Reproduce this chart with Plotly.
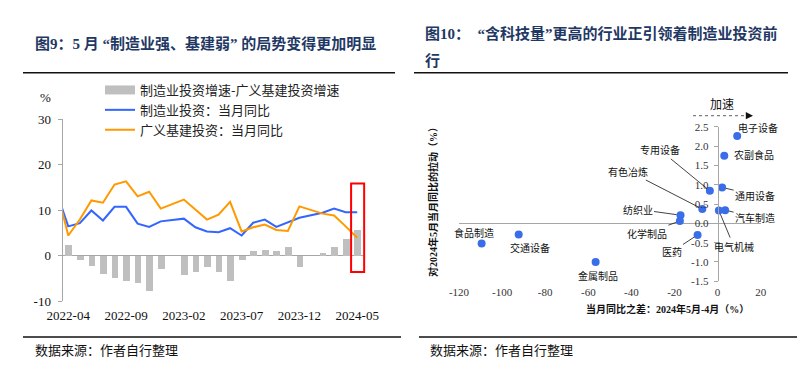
import plotly.graph_objects as go

W, H = 804, 372

# ---------------- Left chart data ----------------
MONTHS = ["2022-03", "2022-04", "2022-05", "2022-06", "2022-07", "2022-08", "2022-09",
          "2022-10", "2022-11", "2022-12", "2023-01", "2023-02", "2023-03", "2023-04",
          "2023-05", "2023-06", "2023-07", "2023-08", "2023-09", "2023-10", "2023-11",
          "2023-12", "2024-01", "2024-02", "2024-03", "2024-04", "2024-05"]
BAR_MONTHS = MONTHS[1:]
MFG_YOY = [13.8, 6.4, 7.1, 9.9, 7.7, 10.7, 10.7, 7.0, 6.3, 7.5, None, 8.1, 6.2, 5.3,
           5.1, 6.0, 4.4, 7.2, 7.9, 6.3, 7.3, 8.3, None, 9.4, 10.3, 9.5, 9.5]
INFRA_YOY = [14.4, 4.4, 7.9, 12.1, 11.6, 15.6, 16.3, 13.0, 14.0, 10.3, None, 12.3, 10.1, 7.9,
             9.0, 11.8, 5.3, 6.2, 6.8, 5.6, 5.4, 10.8, None, 9.2, 8.8, 6.4, 3.9]
GAP = [2.2, -0.9, -2.2, -4.0, -4.9, -5.6, -6.0, -7.7, -2.9, None, -4.2, -3.7, -2.6,
       -3.7, -5.6, -1.0, 1.1, 1.3, 0.9, 1.9, -2.6, None, 0.6, 1.8, 3.6, 5.7]
X_TICKS_L = ["2022-04", "2022-09", "2023-02", "2023-07", "2023-12", "2024-05"]
Y_TICKS_L = [-10, 0, 10, 20, 30]
HIGHLIGHT_Y = (-3.6, 15.8)
SERIES_NAMES = ["制造业投资增速-广义基建投资增速", "制造业投资：当月同比", "广义基建投资：当月同比"]

# ---------------- Right chart data ----------------
INDUSTRIES = ["电子设备", "农副食品", "专用设备", "通用设备", "有色冶炼", "电气机械", "汽车制造",
              "纺织业", "化学制品", "医药", "食品制造", "交通设备", "金属制品"]
YOY_DIFF = [9.1, 3.1, -3.6, 2.1, -7.1, 0.6, 3.5, -17.2, -17.5, -9.3, -109.5, -92.3, -56.6]
CONTRIB = [2.26, 1.75, 0.84, 0.93, 0.37, 0.33, 0.34, 0.21, 0.06, -0.30, -0.52, -0.29, -1.00]
X_TICKS_R = [-120, -100, -80, -60, -40, -20, 0, 20]
Y_TICKS_R = [-1.5, -1.0, -0.5, 0.0, 0.5, 1.0, 1.5, 2.0, 2.5]

# label placement (style): (mode, xanchor, dx, dy)
LABEL_STYLE = {
    "电子设备": ("shift", "left", -1, 8),
    "农副食品": ("shift", "left", 8, 1),
    "专用设备": ("lead", None, -50, -41),
    "通用设备": ("lead", None, 33, 8),
    "有色冶炼": ("lead", None, -74, -38),
    "电气机械": ("lead", None, 15, 36),
    "汽车制造": ("lead", None, 30, 7),
    "纺织业": ("lead", None, -43, -6),
    "化学制品": ("lead", None, -33, 12),
    "医药": ("lead", None, -26, 17),
    "食品制造": ("shift", "center", -8, 11),
    "交通设备": ("shift", "center", 11, -13),
    "金属制品": ("shift", "center", 2, -14),
}

SERIF = "Liberation Serif, Noto Sans CJK SC, serif"
CJK = "Noto Sans CJK SC, sans-serif"
GRAY = "#A6A6A6"


def PX(x):
    return x / W


def PY(y):
    return 1 - y / H


L_DOM_X = [PX(62.5), PX(363)]
L_DOM_Y = [PY(301), PY(119)]
R_DOM_X = [PX(459), PX(760.7)]
R_DOM_Y = [PY(281.3), PY(126.7)]
L_XRANGE = [0.5, len(MONTHS) - 0.5]
R_XRANGE = [-120, 20]

fig = go.Figure()

fig.add_trace(go.Bar(x=BAR_MONTHS, y=GAP, marker=dict(color="#BFBFBF", line=dict(width=0)),
                     width=0.58, showlegend=False, xaxis="x", yaxis="y"))
# legend proxy for the bar series (wide swatch as in the reference)
fig.add_trace(go.Scatter(x=[None], y=[None], mode="lines", name=SERIES_NAMES[0],
                         line=dict(color="#BFBFBF", width=9), xaxis="x", yaxis="y"))
fig.add_trace(go.Scatter(x=MONTHS, y=MFG_YOY, mode="lines", name=SERIES_NAMES[1], connectgaps=True,
                         line=dict(color="#3366FF", width=2), xaxis="x", yaxis="y"))
fig.add_trace(go.Scatter(x=MONTHS, y=INFRA_YOY, mode="lines", name=SERIES_NAMES[2], connectgaps=True,
                         line=dict(color="#FF9900", width=2), xaxis="x", yaxis="y"))

fig.add_trace(go.Scatter(x=YOY_DIFF, y=CONTRIB, mode="markers", showlegend=False,
                         marker=dict(color="#3A6EE8", size=8), xaxis="x2", yaxis="y2"))

yaxis2_pos = R_DOM_X[0] + (0 - R_XRANGE[0]) / (R_XRANGE[1] - R_XRANGE[0]) * (R_DOM_X[1] - R_DOM_X[0])

fig.update_layout(
    template="none",
    width=W, height=H, margin=dict(l=0, r=0, t=0, b=0, pad=0, autoexpand=False),
    paper_bgcolor="white", plot_bgcolor="white",
    bargap=0,
    legend=dict(x=PX(100), y=PY(75), xanchor="left", yanchor="top",
                font=dict(family=CJK, size=13, color="#222"),
                bgcolor="rgba(0,0,0,0)", itemwidth=30, tracegroupgap=0),
    xaxis=dict(domain=L_DOM_X, anchor="y", type="category", categoryorder="array",
               categoryarray=MONTHS, range=L_XRANGE, tickmode="array", tickvals=X_TICKS_L,
               ticktext=X_TICKS_L, ticks="", showline=False, showgrid=False, zeroline=False,
               automargin=False,
               tickfont=dict(family=SERIF, size=13, color="#111"), ticklabelstandoff=5),
    yaxis=dict(domain=L_DOM_Y, anchor="x", range=[Y_TICKS_L[0], Y_TICKS_L[-1]],
               tickmode="array", tickvals=Y_TICKS_L, ticktext=[str(v) for v in Y_TICKS_L],
               showline=True, linecolor=GRAY, linewidth=1, ticks="outside", ticklen=4,
               tickcolor=GRAY, showgrid=False, zeroline=True, zerolinecolor=GRAY, zerolinewidth=1,
               automargin=False,
               tickfont=dict(family=SERIF, size=13, color="#111"), ticklabelstandoff=4),
    xaxis2=dict(domain=R_DOM_X, anchor="y2", range=R_XRANGE, tickmode="array",
                tickvals=X_TICKS_R, ticktext=[str(v) for v in X_TICKS_R], ticks="",
                showline=False, showgrid=False, zeroline=False, automargin=False,
                tickfont=dict(family=SERIF, size=11, color="#333"), ticklabelstandoff=3),
    yaxis2=dict(domain=R_DOM_Y, anchor="free", position=yaxis2_pos,
                range=[Y_TICKS_R[0], Y_TICKS_R[-1]], tickmode="array", tickvals=Y_TICKS_R,
                ticktext=["%.1f" % v for v in Y_TICKS_R], showline=True, linecolor=GRAY,
                linewidth=1, ticks="outside", ticklen=4, tickcolor=GRAY, showgrid=False,
                zeroline=True, zerolinecolor=GRAY, zerolinewidth=1, automargin=False,
                tickfont=dict(family=SERIF, size=11, color="#333"), ticklabelstandoff=3),
)

ann = []
TITLE_COLOR = "#1F3864"
TITLE_FONT = dict(family=SERIF, size=15, color=TITLE_COLOR, weight="bold")


def paper_text(text, x, y, font, xanchor="center", **kw):
    d = dict(text=text, x=PX(x), y=PY(y), xref="paper", yref="paper", xanchor=xanchor,
             yanchor="middle", showarrow=False, font=font)
    d.update(kw)
    return d


ann.append(paper_text("图9：5 月 “制造业强、基建弱” 的局势变得更加明显", 33, 43, TITLE_FONT, "left"))
ann.append(paper_text("图10：  “含科技量”更高的行业正引领着制造业投资前", 423, 33, TITLE_FONT, "left"))
ann.append(paper_text("行", 423, 61, TITLE_FONT, "left"))
for xs in (33, 428):
    ann.append(paper_text("数据来源：作者自行整理", xs, 349, dict(family=CJK, size=13, color="#111"), "left"))
ann.append(paper_text("%", 45, 97, dict(family=SERIF, size=13, color="#111")))
# right axis titles
ann.append(paper_text("当月同比之差：2024年5月-4月（%）", 667, 309,
                      dict(family=SERIF, size=10, color="#111", weight="bold")))
ann.append(paper_text("对2024年5月当月同比的拉动（%）", 433, 200,
                      dict(family=SERIF, size=10, color="#111", weight="bold"), textangle=-90))
ann.append(paper_text("加速", 722, 104, dict(family=CJK, size=12, color="#111")))
ann.append(dict(text="", x=PX(753), y=PY(115.7), xref="paper", yref="paper", showarrow=True,
                ax=-8, ay=0, arrowhead=2, arrowsize=1.2, arrowwidth=1.2, arrowcolor="#111"))

# industry labels
for name, xv, yv in zip(INDUSTRIES, YOY_DIFF, CONTRIB):
    mode, anchor, dx, dy = LABEL_STYLE[name]
    base = dict(text=name, x=xv, y=yv, xref="x2", yref="y2",
                font=dict(family=CJK, size=10, color="#111"))
    if mode == "lead":
        base.update(showarrow=True, arrowhead=0, arrowwidth=0.8, arrowcolor="#111",
                    ax=dx, ay=dy, standoff=4)
    else:
        base.update(showarrow=False, xanchor=anchor, yanchor="middle", xshift=dx, yshift=dy)
    ann.append(base)

fig.update_layout(annotations=ann)

# shapes: title rules, source rules, dotted arrow, highlight box
shapes = []
for x0, x1, y in [(23, 395, 72.7), (414, 788, 72.7), (23, 401, 337), (419, 797, 337)]:
    shapes.append(dict(type="line", xref="paper", yref="paper", x0=PX(x0), x1=PX(x1),
                       y0=PY(y), y1=PY(y), line=dict(color="#111", width=1.5)))
shapes.append(dict(type="line", xref="paper", yref="paper", x0=PX(693), x1=PX(747),
                   y0=PY(115.7), y1=PY(115.7), line=dict(color="#7F7F7F", width=1.2, dash="dot")))


def cat_to_paper(idx):
    return L_DOM_X[0] + (idx - L_XRANGE[0]) / (L_XRANGE[1] - L_XRANGE[0]) * (L_DOM_X[1] - L_DOM_X[0])


last_idx = MONTHS.index(BAR_MONTHS[-1])
shapes.append(dict(type="rect", xref="paper", yref="y", x0=cat_to_paper(last_idx - 0.53),
                   x1=cat_to_paper(last_idx + 0.6), y0=HIGHLIGHT_Y[0], y1=HIGHLIGHT_Y[1],
                   line=dict(color="#FF0000", width=2), fillcolor="rgba(0,0,0,0)"))
fig.update_layout(shapes=shapes)

fig.write_html("out.html", config={"displayModeBar": False},
               post_script="document.body.style.margin='0';document.body.style.padding='0';")
